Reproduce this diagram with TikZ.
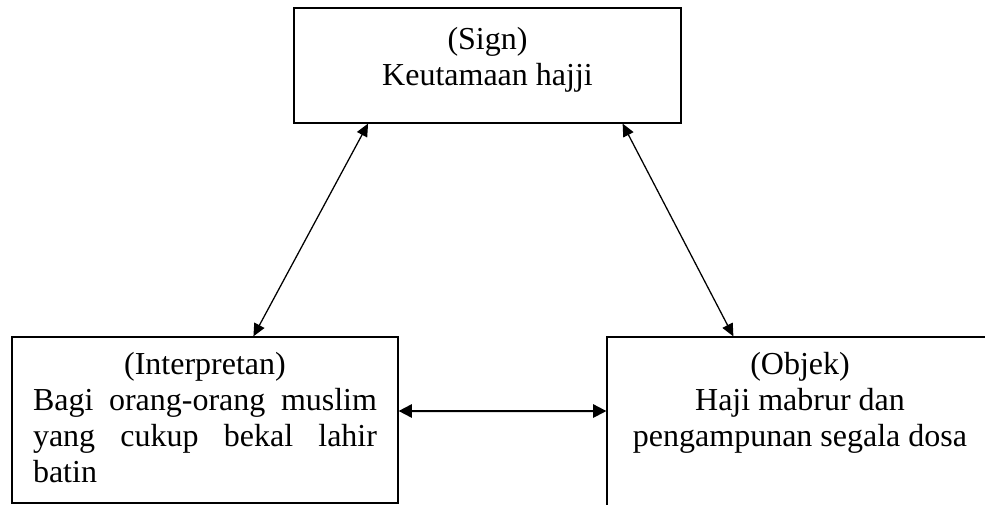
\documentclass[tikz,border=0pt]{standalone}
\usepackage{fontspec}
\setmainfont{Liberation Serif}
\usetikzlibrary{arrows.meta}

\tikzset{
  box/.style={draw=black, line width=0.9pt, rectangle, inner sep=0pt},
  boxtext/.style={inner sep=0pt, anchor=north, font=\fontsize{24}{27}\selectfont},
  link/.style={line width=0.95pt, {Triangle[length=9.5pt,width=8.5pt]}-{Triangle[length=9.5pt,width=8.5pt]}},
  hlink/.style={line width=1.5pt, {Triangle[length=10pt,width=10pt]}-{Triangle[length=10pt,width=10pt]}},
}

\begin{document}
\begin{tikzpicture}[x=0.75pt, y=-0.75pt]
  \useasboundingbox (0,0) rectangle (985,505);
  \clip (0,0) rectangle (985,505);

  % the three boxes
  \node[box, minimum width=290.25pt, minimum height=86.25pt] (sign) at (487.5,65.5) {};
  \node[box, minimum width=289.5pt, minimum height=124.5pt] (interp) at (205,420) {};
  \node[box, minimum width=289.5pt, minimum height=130pt] (objek) at (800,423.7) {};

  % box texts
  \node[boxtext, align=center] (signtext) at ([yshift=-15pt]sign.north)
    {(Sign)\\Keutamaan hajji};
  \node[boxtext, text width=258pt, align=justify] (interptext) at ([yshift=-12pt]interp.north)
    {\tolerance=10000\hbadness=10000\hyphenpenalty=10000
     {\centering (Interpretan)\par}
     Bagi orang-orang muslim\linebreak yang cukup bekal lahir\linebreak batin};
  \node[boxtext, align=center] (objektext) at ([yshift=-12pt]objek.north)
    {(Objek)\\Haji mabrur dan\\pengampunan segala dosa};

  % connectors
  \draw[link] ([xshift=56pt]sign.south west) -- ([xshift=181.5pt]interp.north west);
  \draw[link] ([xshift=-44.25pt]sign.south east) -- ([xshift=95.25pt]objek.north west);
  \draw[hlink] ([yshift=6.75pt]interp.east) -- ([yshift=9.5pt]objek.west);
\end{tikzpicture}
\end{document}
